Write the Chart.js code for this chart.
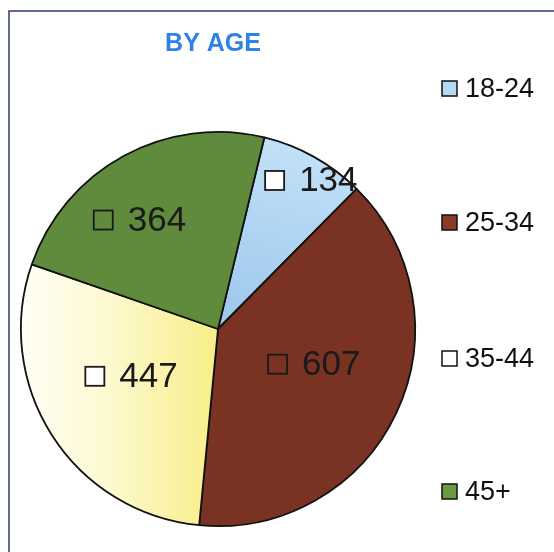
<!DOCTYPE html>
<html><head><meta charset="utf-8">
<script src="https://cdn.jsdelivr.net/npm/chart.js@4/dist/chart.umd.min.js"></script>
<style>html,body{margin:0;padding:0;background:#fff}#wrap{width:554px;height:552px;position:relative}</style>
</head><body><div id="wrap"><canvas id="c" width="554" height="552"></canvas></div>
<script>
const categories = ['18-24', '25-34', '35-44', '45+'];
const values = [134, 607, 447, 364];
const chartTitle = 'BY AGE';

const labelRadiusFrac = [0.89, 0.52, 0.50, 0.68];
const labelAngleShift = [3, -5, 4, -7];

function sliceColor(ctx) {
  const chart = ctx.chart, a = chart.chartArea, g = chart.ctx;
  const i = ctx.dataIndex;
  if (!a) return '#ccc';
  if (i === 0) {
    const gr = g.createLinearGradient(a.left + 250, a.top, a.left + 200, a.top + 200);
    gr.addColorStop(0, '#c4e2f7'); gr.addColorStop(1, '#9ac6ec'); return gr;
  }
  if (i === 1) return '#7a3323';
  if (i === 2) {
    const gr = g.createLinearGradient(a.left, 0, a.left + 200, 0);
    gr.addColorStop(0, '#fffff8'); gr.addColorStop(0.45, '#fdf9cf'); gr.addColorStop(1, '#f7ee86'); return gr;
  }
  return '#618b3c';
}
const legendColors = ['#b3d9f3', '#8a3b28', '#ffffff', '#6a9a44'];

const decor = {
  id: 'decor',
  beforeDraw(chart) {
    const g = chart.ctx;
    g.save();
    g.fillStyle = '#fff'; g.fillRect(0, 0, chart.width, chart.height);
    g.strokeStyle = '#2c3a78'; g.lineWidth = 1.5;
    g.beginPath(); g.moveTo(9, 552); g.lineTo(9, 11); g.lineTo(554, 11); g.stroke();
    // title
    g.font = 'bold 25px "Liberation Sans", Arial, sans-serif';
    g.textAlign = 'center'; g.textBaseline = 'middle';
    g.fillStyle = '#2f83e4';
    g.fillText(chartTitle, 213, 44);
    // legend
    const ys = [89, 223, 359, 492];
    g.font = '27px "Liberation Sans", Arial, sans-serif';
    g.textAlign = 'left';
    categories.forEach((c, i) => {
      g.fillStyle = legendColors[i];
      g.fillRect(442, ys[i] - 8, 15, 15);
      g.strokeStyle = '#111'; g.lineWidth = 1.5;
      g.strokeRect(442, ys[i] - 8, 15, 15);
      g.fillStyle = '#111';
      g.fillText(c, 465, ys[i] + 1);
    });
    g.restore();
  },
  afterDatasetsDraw(chart) {
    const g = chart.ctx;
    const meta = chart.getDatasetMeta(0);
    g.save();
    g.font = '35px "Liberation Sans", Arial, sans-serif';
    g.textBaseline = 'middle'; g.textAlign = 'left';
    meta.data.forEach((arc, i) => {
      const p = arc.getProps(['x', 'y', 'startAngle', 'endAngle', 'outerRadius'], true);
      const mid = (p.startAngle + p.endAngle) / 2 + labelAngleShift[i] * Math.PI / 180;
      const r = p.outerRadius * labelRadiusFrac[i];
      const cx = p.x + Math.cos(mid) * r, cy = p.y + Math.sin(mid) * r;
      const txt = String(values[i]);
      const tw = g.measureText(txt).width;
      const box = 19, gap = 15;
      const total = box + gap + tw;
      const x0 = cx - total / 2;
      g.fillStyle = '#ffffff';
      g.strokeStyle = '#1a1a1a'; g.lineWidth = 1.8;
      if (i === 2 || i === 0) g.fillRect(x0, cy - box / 2, box, box);
      g.strokeRect(x0, cy - box / 2, box, box);
      g.fillStyle = '#1a1a1a';
      g.fillText(txt, x0 + box + gap, cy + 1);
    });
    g.restore();
  }
};

new Chart(document.getElementById('c'), {
  type: 'pie',
  data: {
    labels: categories,
    datasets: [{
      data: values,
      backgroundColor: sliceColor,
      borderColor: '#111',
      borderWidth: 1.8,
      borderAlign: 'center'
    }]
  },
  options: {
    responsive: false,
    animation: false,
    devicePixelRatio: 1,
    rotation: 13.6,
    layout: { padding: { left: 19, right: 137, top: 131, bottom: 25 } },
    plugins: { legend: { display: false }, tooltip: { enabled: false }, title: { display: false } },
    events: []
  },
  plugins: [decor]
});
</script></body></html>
